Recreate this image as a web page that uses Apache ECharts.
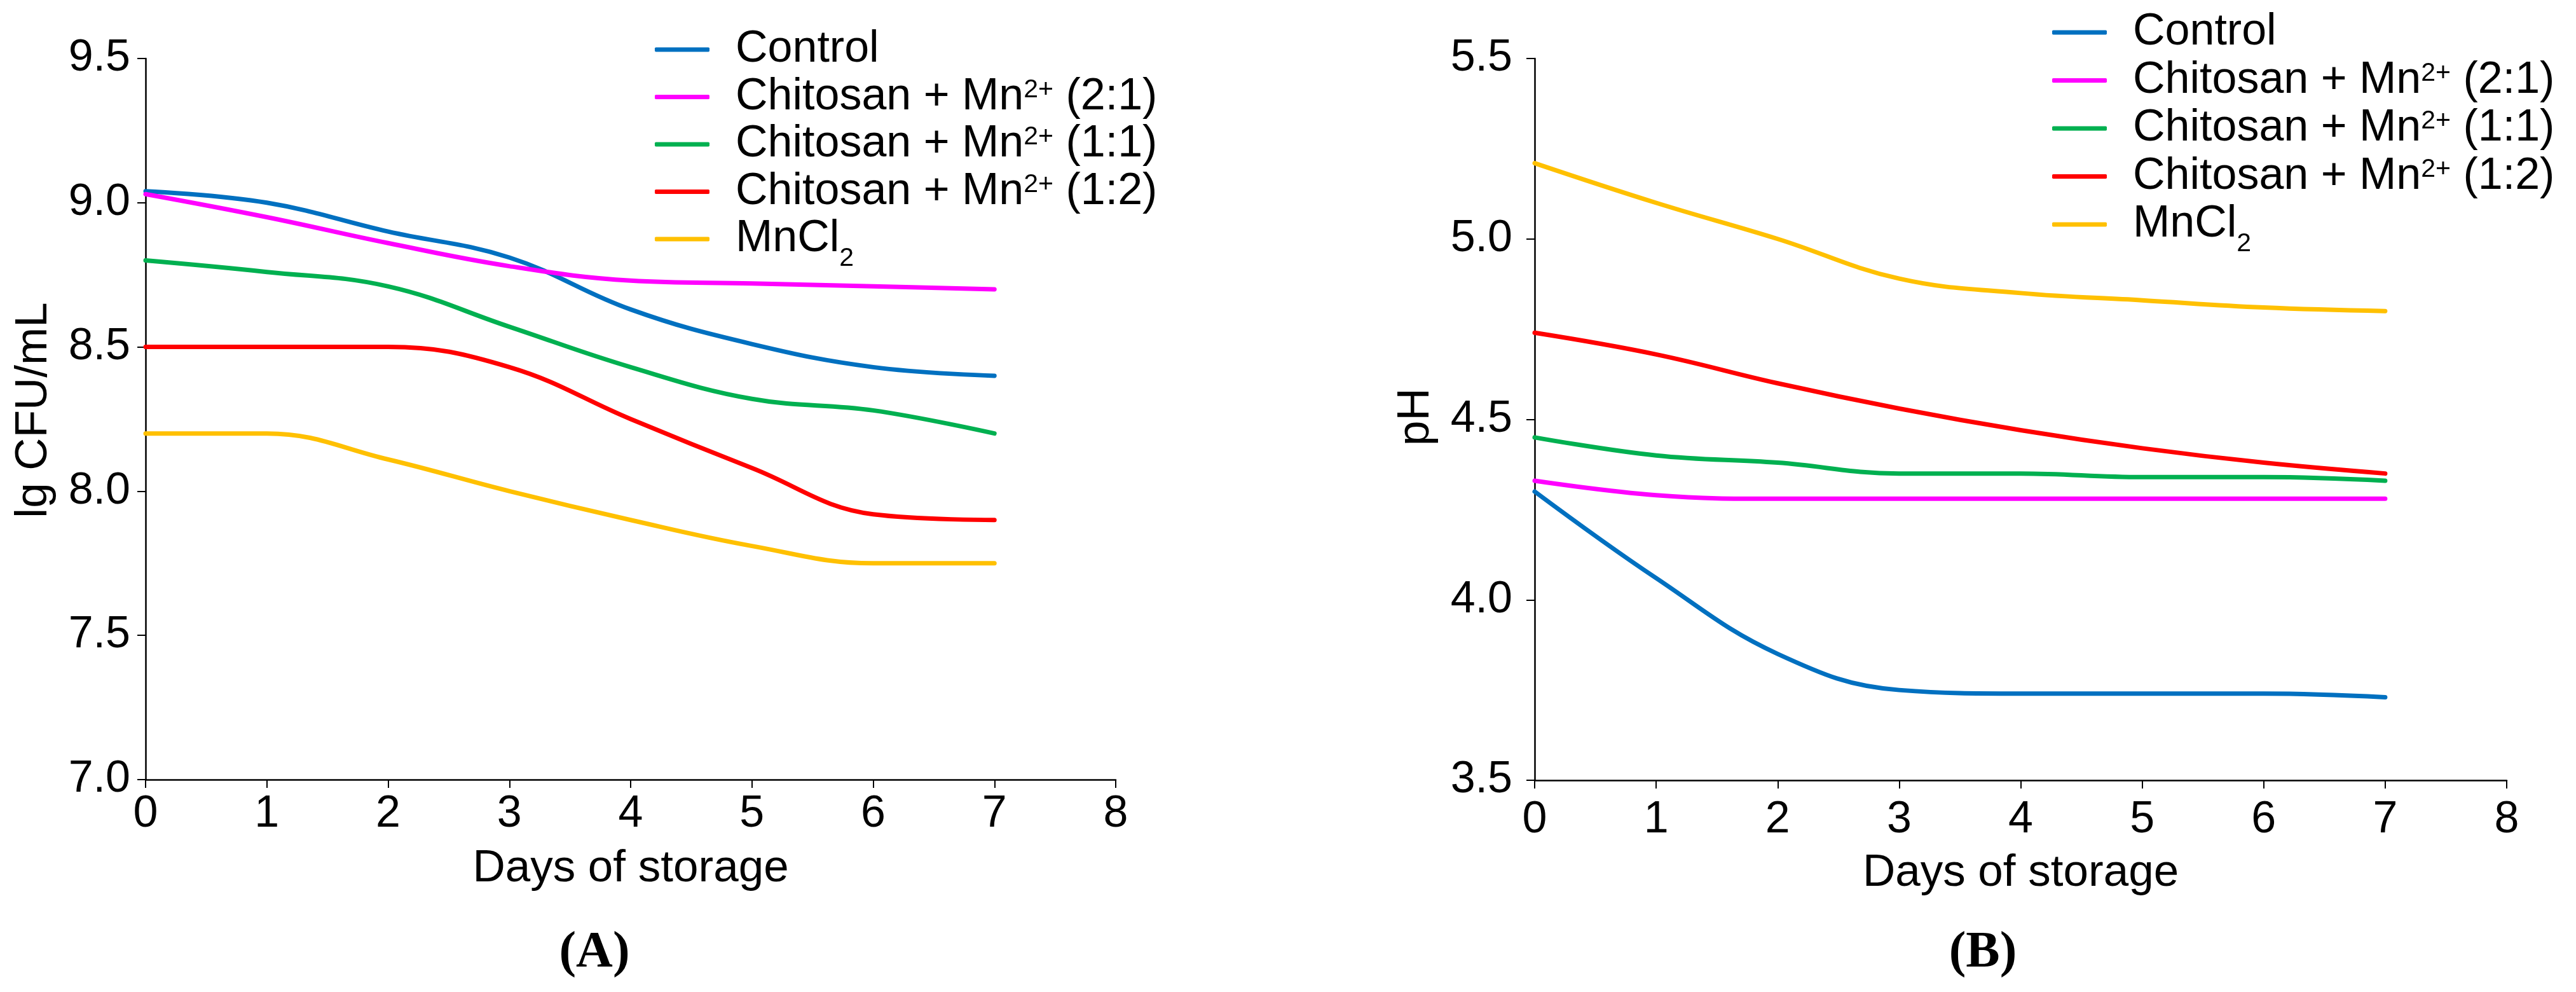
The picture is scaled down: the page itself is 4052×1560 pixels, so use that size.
<!DOCTYPE html>
<html>
<head>
<meta charset="utf-8">
<script src="https://cdn.jsdelivr.net/npm/echarts@6/dist/echarts.min.js"></script>
<style>
  html, body { margin: 0; padding: 0; background: #ffffff; }
  #chart { width: 4052px; height: 1560px; }
</style>
</head>
<body>
<div id="chart"></div>
<script>
// ---- data ----
const days = [0, 1, 2, 3, 4, 5, 6, 7];
const seriesNames = ['Control', 'Chitosan + Mn2+ (2:1)', 'Chitosan + Mn2+ (1:1)', 'Chitosan + Mn2+ (1:2)', 'MnCl2'];
const seriesColors = ['#0070C0', '#FF00FF', '#00B050', '#FF0000', '#FFC000'];

// Panel A: lg CFU/mL
const cfuControl = [9.04, 9.00, 8.90, 8.81, 8.63, 8.51, 8.43, 8.40];
const cfuChit21  = [9.03, 8.95, 8.86, 8.78, 8.73, 8.72, 8.71, 8.70];
const cfuChit11  = [8.80, 8.76, 8.71, 8.57, 8.43, 8.32, 8.28, 8.20];
const cfuChit12  = [8.50, 8.50, 8.50, 8.43, 8.25, 8.08, 7.92, 7.90];
const cfuMnCl2   = [8.20, 8.20, 8.11, 8.00, 7.90, 7.81, 7.75, 7.75];

// Panel B: pH
const phControl = [4.30, 4.06, 3.85, 3.75, 3.74, 3.74, 3.74, 3.73];
const phChit21  = [4.33, 4.29, 4.28, 4.28, 4.28, 4.28, 4.28, 4.28];
const phChit11  = [4.45, 4.40, 4.38, 4.35, 4.35, 4.34, 4.34, 4.33];
const phChit12  = [4.74, 4.68, 4.60, 4.53, 4.47, 4.42, 4.38, 4.35];
const phMnCl2   = [5.21, 5.10, 5.00, 4.89, 4.85, 4.83, 4.81, 4.80];

// axis settings
const xTicksMin = 0, xTicksMax = 8, xInterval = 1;
const cfuMin = 7.0, cfuMax = 9.5, cfuInterval = 0.5;
const phMin = 3.5, phMax = 5.5, phInterval = 0.5;
const xAxisTitle = 'Days of storage';
const cfuAxisTitle = 'lg CFU/mL';
const phAxisTitle = 'pH';
const panelLabels = ['(A)', '(B)'];

const cfuSets = [cfuControl, cfuChit21, cfuChit11, cfuChit12, cfuMnCl2];
const phSets = [phControl, phChit21, phChit11, phChit12, phMnCl2];

// ---- chart ----
const FONT = '"Liberation Sans", Arial, sans-serif';
const chart = echarts.init(document.getElementById('chart'), null, { renderer: 'canvas' });

function legendLabel(name) {
  if (name === 'MnCl2') return 'MnCl{sub|2}';
  return name.replace('Mn2+', 'Mn{sup|2+}');
}

function makeLegend(top, gap, left) {
  return {
    orient: 'vertical',
    left: left,
    top: top,
    itemGap: gap,
    itemWidth: 86,
    itemHeight: 7,
    icon: 'roundRect',
    padding: 0,
    data: seriesNames,
    selectedMode: false,
    formatter: legendLabel,
    textStyle: {
      fontFamily: FONT,
      fontSize: 70,
      color: '#000',
      padding: [0, 0, 0, 36],
      rich: {
        sup: { fontFamily: FONT, fontSize: 41, color: '#000', verticalAlign: 'middle', padding: [0, 0, 22, 0] },
        sub: { fontFamily: FONT, fontSize: 41, color: '#000', verticalAlign: 'middle', padding: [62, 0, 0, 0] }
      }
    }
  };
}

function makeXAxis(gridIndex, labelMargin, nameGap) {
  return {
    type: 'value',
    gridIndex: gridIndex,
    min: xTicksMin, max: xTicksMax, interval: xInterval,
    name: xAxisTitle,
    nameLocation: 'middle',
    nameGap: nameGap,
    nameTextStyle: { fontFamily: FONT, fontSize: 71, color: '#000' },
    axisLine: { show: true, onZero: false, lineStyle: { color: '#000', width: 2.5 } },
    axisTick: { show: true, inside: false, length: 13, lineStyle: { color: '#000', width: 2 } },
    axisLabel: { fontFamily: FONT, fontSize: 70, color: '#000', margin: labelMargin },
    splitLine: { show: false }
  };
}

function makeYAxis(gridIndex, min, max, interval, title, labelMargin, nameGap, namePadLeft) {
  return {
    type: 'value',
    gridIndex: gridIndex,
    min: min, max: max, interval: interval,
    name: title,
    nameLocation: 'middle',
    nameRotate: 90,
    nameGap: nameGap,
    nameTextStyle: { fontFamily: FONT, fontSize: 71, color: '#000', padding: [0, 0, 0, namePadLeft] },
    axisLine: { show: true, onZero: false, lineStyle: { color: '#000', width: 2.5 } },
    axisTick: { show: true, inside: false, length: 13, lineStyle: { color: '#000', width: 2 } },
    axisLabel: { fontFamily: FONT, fontSize: 70, color: '#000', margin: labelMargin,
                 formatter: function (v) { return v.toFixed(1); } },
    splitLine: { show: false }
  };
}

const series = [];
seriesNames.forEach(function (name, i) {
  series.push({
    name: name, type: 'line', xAxisIndex: 0, yAxisIndex: 0,
    data: days.map(function (d, k) { return [d, cfuSets[i][k]]; }),
    smooth: 0.4, symbol: 'none', showSymbol: false,
    lineStyle: { color: seriesColors[i], width: 7, cap: 'round' },
    itemStyle: { color: seriesColors[i] },
    animation: false
  });
});
seriesNames.forEach(function (name, i) {
  series.push({
    name: name, type: 'line', xAxisIndex: 1, yAxisIndex: 1,
    data: days.map(function (d, k) { return [d, phSets[i][k]]; }),
    smooth: 0.4, symbol: 'none', showSymbol: false,
    lineStyle: { color: seriesColors[i], width: 7, cap: 'round' },
    itemStyle: { color: seriesColors[i] },
    animation: false
  });
});

const option = {
  backgroundColor: '#ffffff',
  animation: false,
  grid: [
    { left: 229, top: 92, width: 1526, height: 1134, containLabel: false },
    { left: 2414, top: 92, width: 1529, height: 1135, containLabel: false }
  ],
  xAxis: [ makeXAxis(0, 20, 105), makeXAxis(1, 28, 111) ],
  yAxis: [
    makeYAxis(0, cfuMin, cfuMax, cfuInterval, cfuAxisTitle, 24, 140, 28),
    makeYAxis(1, phMin, phMax, phInterval, phAxisTitle, 35, 151, 8)
  ],
  legend: [ makeLegend(43, 4.5, 1030), makeLegend(16, 5.5, 3228) ],
  series: series,
  graphic: [
    { type: 'text', x: 935, y: 1499,
      style: { text: panelLabels[0], font: 'bold 80px "Liberation Serif", "Times New Roman", serif',
               fill: '#000', textAlign: 'center', textVerticalAlign: 'middle' } },
    { type: 'text', x: 3119, y: 1499,
      style: { text: panelLabels[1], font: 'bold 80px "Liberation Serif", "Times New Roman", serif',
               fill: '#000', textAlign: 'center', textVerticalAlign: 'middle' } }
  ]
};
chart.setOption(option);
</script>
</body>
</html>
